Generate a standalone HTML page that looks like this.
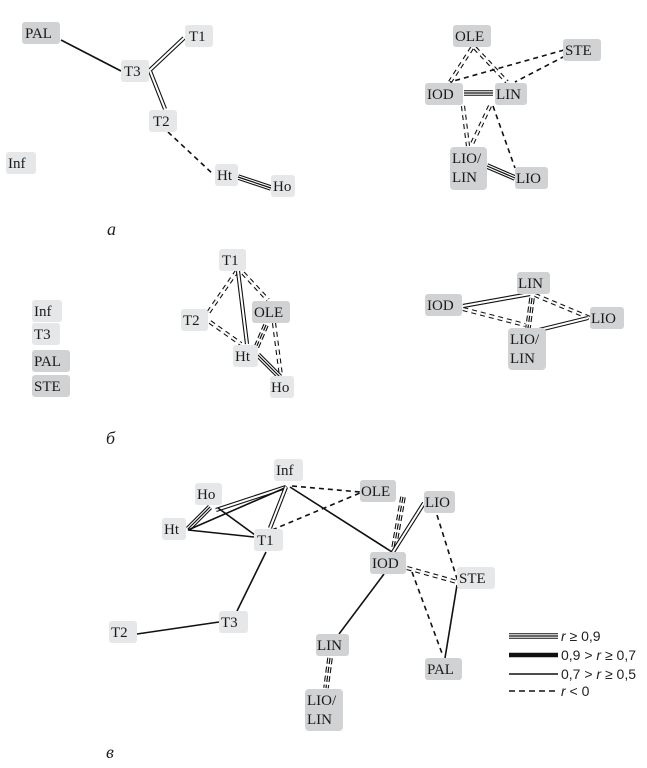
<!DOCTYPE html>
<html><head><meta charset="utf-8"><style>
html,body{margin:0;padding:0;background:#fff;width:647px;height:768px;overflow:hidden}
svg{display:block}
line{fill:none}
.k1{stroke:#111;stroke-width:1.6}
.k4{stroke:#111;stroke-width:4.2}
.w2{stroke:#fff;stroke-width:2}
.k5{stroke:#111;stroke-width:5.6}
.w3{stroke:#fff;stroke-width:3.4}
.kt{stroke:#111;stroke-width:1.2}
.d{stroke-dasharray:5 4}
.L{fill:#e6e7e8}
.D{fill:#d1d2d4}
.t{font-family:"Liberation Serif",serif;font-size:15px;fill:#1a1a1a}
.lab{font-family:"Liberation Serif",serif;font-size:18px;font-style:italic;fill:#222}
.lg{font-family:"Liberation Sans",sans-serif;font-size:14px;fill:#222}
</style></head><body>
<svg width="647" height="768" viewBox="0 0 647 768" xmlns="http://www.w3.org/2000/svg">
<!-- ===== a ===== -->
<line class="k1" x1="61" y1="40" x2="121" y2="71"/>
<line class="k4" x1="150" y1="70" x2="184" y2="38"/><line class="w2" x1="150" y1="70" x2="184" y2="38"/>
<line class="k4" x1="150" y1="71" x2="165" y2="109"/><line class="w2" x1="150" y1="71" x2="165" y2="109"/>
<line class="k1 d" x1="168" y1="132" x2="214" y2="175"/>
<line class="k5" x1="238" y1="177" x2="271" y2="188"/><line class="w3" x1="238" y1="177" x2="271" y2="188"/><line class="kt" x1="238" y1="177" x2="271" y2="188"/>

<line class="k4 d" x1="472" y1="48" x2="450" y2="82"/><line class="w2 d" x1="472" y1="48" x2="450" y2="82"/>
<line class="k4 d" x1="475" y1="48" x2="507" y2="82"/><line class="w2 d" x1="475" y1="48" x2="507" y2="82"/>
<line class="k1 d" x1="564" y1="50" x2="450" y2="82"/>
<line class="k1 d" x1="565" y1="56" x2="515" y2="82"/>
<line class="k5" x1="464" y1="93" x2="493" y2="93"/><line class="w3" x1="464" y1="93" x2="493" y2="93"/><line class="kt" x1="464" y1="93" x2="493" y2="93"/>
<line class="k4 d" x1="463" y1="106" x2="468" y2="146"/><line class="w2 d" x1="463" y1="106" x2="468" y2="146"/>
<line class="k4 d" x1="490" y1="106" x2="471" y2="146"/><line class="w2 d" x1="490" y1="106" x2="471" y2="146"/>
<line class="k1 d" x1="493" y1="106" x2="515" y2="168"/>
<line class="k5" x1="487" y1="166" x2="515" y2="178"/><line class="w3" x1="487" y1="166" x2="515" y2="178"/><line class="kt" x1="487" y1="166" x2="515" y2="178"/>

<rect class="D" x="22" y="22" width="38" height="22" rx="3"/><text class="t" x="25" y="38">PAL</text>
<rect class="L" x="185" y="25" width="28" height="22" rx="3"/><text class="t" x="189" y="41">T1</text>
<rect class="L" x="121" y="60" width="28" height="22" rx="3"/><text class="t" x="124" y="76">T3</text>
<rect class="L" x="149" y="110" width="28" height="22" rx="3"/><text class="t" x="153" y="126">T2</text>
<rect class="L" x="6" y="152" width="30" height="22" rx="3"/><text class="t" x="8" y="168">Inf</text>
<rect class="L" x="215" y="164" width="23" height="22" rx="3"/><text class="t" x="217" y="180">Ht</text>
<rect class="L" x="271" y="175" width="24" height="22" rx="3"/><text class="t" x="273" y="191">Ho</text>

<rect class="D" x="453" y="25" width="38" height="22" rx="3"/><text class="t" x="455" y="41">OLE</text>
<rect class="D" x="563" y="39" width="38" height="22" rx="3"/><text class="t" x="565" y="55">STE</text>
<rect class="D" x="425" y="83" width="38" height="22" rx="3"/><text class="t" x="427" y="99">IOD</text>
<rect class="D" x="495" y="83" width="32" height="22" rx="3"/><text class="t" x="496" y="99">LIN</text>
<rect class="D" x="450" y="147" width="37" height="43" rx="4"/><text class="t" x="452" y="163">LIO/</text><text class="t" x="452" y="182">LIN</text>
<rect class="D" x="515" y="167" width="33" height="22" rx="3"/><text class="t" x="516" y="183">LIO</text>

<text class="lab" x="107" y="235">а</text>

<!-- ===== b ===== -->
<line class="k4 d" x1="237" y1="271" x2="208" y2="313"/><line class="w2 d" x1="237" y1="271" x2="208" y2="313"/>
<line class="k4 d" x1="243" y1="273" x2="268" y2="300"/><line class="w2 d" x1="243" y1="273" x2="268" y2="300"/>
<line class="k4" x1="238" y1="271" x2="247" y2="344"/><line class="w2" x1="238" y1="271" x2="247" y2="344"/>
<line class="k4 d" x1="210" y1="322" x2="241" y2="344"/><line class="w2 d" x1="210" y1="322" x2="241" y2="344"/>
<line class="k5 d" x1="266" y1="325" x2="256" y2="348" style="stroke-dasharray:6 3"/><line class="w3 d" x1="266" y1="325" x2="256" y2="348" style="stroke-dasharray:6 3"/><line class="kt d" x1="266" y1="325" x2="256" y2="348" style="stroke-dasharray:6 3"/>
<line class="k5" x1="258" y1="355" x2="280" y2="377"/><line class="w3" x1="258" y1="355" x2="280" y2="377"/><line class="kt" x1="258" y1="355" x2="280" y2="377"/>
<line class="k4 d" x1="274" y1="323" x2="281" y2="376"/><line class="w2 d" x1="274" y1="323" x2="281" y2="376"/>

<line class="k4" x1="463" y1="306" x2="530" y2="294"/><line class="w2" x1="463" y1="306" x2="530" y2="294"/>
<line class="k4 d" x1="463" y1="309" x2="525" y2="325"/><line class="w2 d" x1="463" y1="309" x2="525" y2="325"/>
<line class="k4 d" x1="535" y1="295" x2="590" y2="318"/><line class="w2 d" x1="535" y1="295" x2="590" y2="318"/>
<line class="k5 d" x1="532" y1="298" x2="528" y2="328" style="stroke-dasharray:6 3"/><line class="w3 d" x1="532" y1="298" x2="528" y2="328" style="stroke-dasharray:6 3"/><line class="kt d" x1="532" y1="298" x2="528" y2="328" style="stroke-dasharray:6 3"/>
<line class="k4" x1="535" y1="331" x2="588" y2="318"/><line class="w2" x1="535" y1="331" x2="588" y2="318"/>

<rect class="L" x="32" y="300" width="30" height="22" rx="3"/><text class="t" x="34" y="316">Inf</text>
<rect class="L" x="32" y="323" width="28" height="22" rx="3"/><text class="t" x="34" y="339">T3</text>
<rect class="D" x="32" y="350" width="38" height="22" rx="3"/><text class="t" x="34" y="366">PAL</text>
<rect class="D" x="32" y="375" width="38" height="22" rx="3"/><text class="t" x="34" y="391">STE</text>
<rect class="L" x="219" y="249" width="27" height="22" rx="3"/><text class="t" x="222" y="265">T1</text>
<rect class="L" x="181" y="309" width="27" height="22" rx="3"/><text class="t" x="183" y="325">T2</text>
<rect class="D" x="252" y="301" width="38" height="22" rx="3"/><text class="t" x="254" y="317">OLE</text>
<rect class="L" x="233" y="345" width="25" height="22" rx="3"/><text class="t" x="235" y="361">Ht</text>
<rect class="L" x="270" y="376" width="24" height="22" rx="3"/><text class="t" x="271" y="392">Ho</text>

<rect class="D" x="517" y="272" width="33" height="22" rx="3"/><text class="t" x="518" y="288">LIN</text>
<rect class="D" x="425" y="294" width="37" height="22" rx="3"/><text class="t" x="427" y="310">IOD</text>
<rect class="D" x="590" y="307" width="34" height="22" rx="3"/><text class="t" x="591" y="323">LIO</text>
<rect class="D" x="508" y="328" width="38" height="42" rx="4"/><text class="t" x="510" y="344">LIO/</text><text class="t" x="510" y="363">LIN</text>

<text class="lab" x="106" y="444">б</text>

<!-- ===== c ===== -->
<line class="k5" x1="188" y1="529" x2="210" y2="507"/><line class="w3" x1="188" y1="529" x2="210" y2="507"/><line class="kt" x1="188" y1="529" x2="210" y2="507"/>
<line class="k4" x1="216" y1="510" x2="286" y2="487"/><line class="w2" x1="216" y1="510" x2="286" y2="487"/>
<line class="k1" x1="188" y1="530" x2="287" y2="487"/>
<line class="k1" x1="188" y1="530" x2="254" y2="537"/>
<line class="k1" x1="218" y1="508" x2="255" y2="535"/>
<line class="k4" x1="286" y1="487" x2="270" y2="528"/><line class="w2" x1="286" y1="487" x2="270" y2="528"/>
<line class="k1 d" x1="292" y1="486" x2="360" y2="492"/>
<line class="k1 d" x1="272" y1="530" x2="360" y2="493"/>
<line class="k1" x1="290" y1="487" x2="392" y2="552"/>
<line class="k5 d" x1="403" y1="497" x2="394" y2="548" style="stroke-dasharray:6 3"/><line class="w3 d" x1="403" y1="497" x2="394" y2="548" style="stroke-dasharray:6 3"/><line class="kt d" x1="403" y1="497" x2="394" y2="548" style="stroke-dasharray:6 3"/>
<line class="k4" x1="393" y1="552" x2="424" y2="503"/><line class="w2" x1="393" y1="552" x2="424" y2="503"/>
<line class="k1 d" x1="437" y1="515" x2="458" y2="582"/>
<line class="k4 d" x1="407" y1="568" x2="457" y2="582"/><line class="w2 d" x1="407" y1="568" x2="457" y2="582"/>
<line class="k1 d" x1="412" y1="572" x2="443" y2="656"/>
<line class="k1" x1="457" y1="585" x2="445" y2="658"/>
<line class="k1" x1="266" y1="552" x2="237" y2="611"/>
<line class="k1" x1="219" y1="622" x2="137" y2="634"/>
<line class="k1" x1="384" y1="574" x2="339" y2="634"/>
<line class="k5 d" x1="330" y1="658" x2="326" y2="688" style="stroke-dasharray:6 3"/><line class="w3 d" x1="330" y1="658" x2="326" y2="688" style="stroke-dasharray:6 3"/><line class="kt d" x1="330" y1="658" x2="326" y2="688" style="stroke-dasharray:6 3"/>

<rect class="L" x="274" y="459" width="29" height="22" rx="3"/><text class="t" x="276" y="475">Inf</text>
<rect class="L" x="195" y="483" width="27" height="22" rx="3"/><text class="t" x="197" y="499">Ho</text>
<rect class="L" x="162" y="518" width="24" height="22" rx="3"/><text class="t" x="164" y="534">Ht</text>
<rect class="L" x="254" y="529" width="29" height="22" rx="3"/><text class="t" x="257" y="545">T1</text>
<rect class="D" x="360" y="480" width="36" height="22" rx="3"/><text class="t" x="361" y="496">OLE</text>
<rect class="D" x="424" y="491" width="31" height="22" rx="3"/><text class="t" x="425" y="507">LIO</text>
<rect class="D" x="370" y="552" width="36" height="22" rx="3"/><text class="t" x="372" y="568">IOD</text>
<rect class="L" x="457" y="567" width="38" height="22" rx="3"/><text class="t" x="459" y="583">STE</text>
<rect class="L" x="219" y="611" width="29" height="22" rx="3"/><text class="t" x="221" y="627">T3</text>
<rect class="L" x="109" y="621" width="28" height="22" rx="3"/><text class="t" x="111" y="637">T2</text>
<rect class="D" x="316" y="634" width="33" height="22" rx="3"/><text class="t" x="317" y="650">LIN</text>
<rect class="D" x="425" y="658" width="37" height="22" rx="3"/><text class="t" x="427" y="674">PAL</text>
<rect class="D" x="305" y="689" width="38" height="42" rx="4"/><text class="t" x="307" y="705">LIO/</text><text class="t" x="307" y="724">LIN</text>

<text class="lab" x="106" y="758">в</text>

<!-- legend -->
<line class="k5" x1="509" y1="636" x2="558" y2="636"/><line class="w3" x1="509" y1="636" x2="558" y2="636"/><line class="kt" x1="509" y1="636" x2="558" y2="636"/>
<line x1="509" y1="655" x2="558" y2="655" style="stroke:#111;stroke-width:4.5"/>
<line class="k1" x1="509" y1="674" x2="558" y2="674"/>
<line class="k1" x1="509" y1="691" x2="558" y2="691" style="stroke-dasharray:6 4"/>
<text class="lg" x="561" y="641"><tspan font-style="italic">r</tspan> ≥ 0,9</text>
<text class="lg" x="561" y="660">0,9 &gt; <tspan font-style="italic">r</tspan> ≥ 0,7</text>
<text class="lg" x="561" y="679">0,7 &gt; <tspan font-style="italic">r</tspan> ≥ 0,5</text>
<text class="lg" x="561" y="696"><tspan font-style="italic">r</tspan> &lt; 0</text>
</svg>
</body></html>
